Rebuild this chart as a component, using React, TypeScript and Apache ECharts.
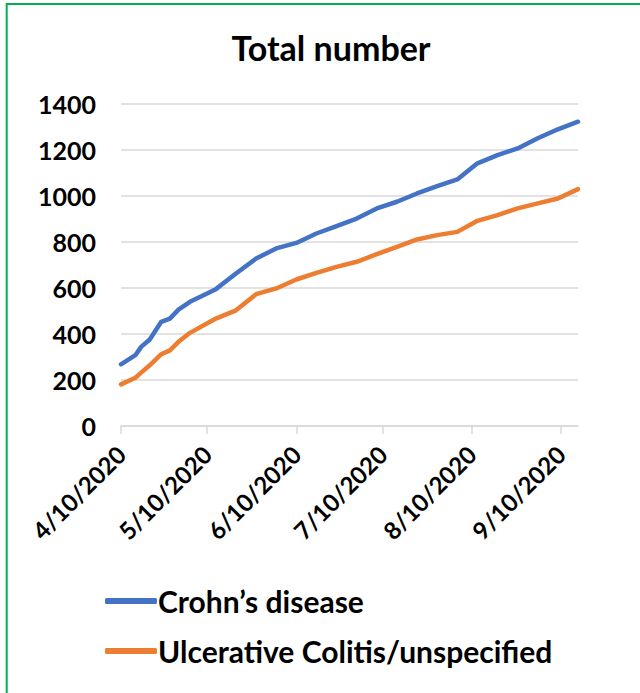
import React, { useEffect, useRef } from "react";
import * as echarts from "echarts";

const startDate = "2020-04-10";
const endDate = "2020-09-16";
const sampleDates = [
  "2020-04-10", "2020-04-15", "2020-04-17", "2020-04-20", "2020-04-24", "2020-04-27", "2020-04-30",
  "2020-05-04", "2020-05-13", "2020-05-20", "2020-05-27", "2020-06-03", "2020-06-10", "2020-06-17",
  "2020-06-24", "2020-07-01", "2020-07-08", "2020-07-15", "2020-07-22", "2020-07-29", "2020-08-05",
  "2020-08-12", "2020-08-19", "2020-08-26", "2020-09-02", "2020-09-09", "2020-09-16",
];
const crohnValues = [
  268, 308, 344, 376, 453, 467, 506, 540, 595, 663, 728, 772, 796, 837,
  869, 902, 946, 975, 1011, 1043, 1072, 1142, 1178, 1207, 1251, 1290, 1323,
];
const ucValues = [
  181, 210, 232, 264, 312, 329, 366, 405, 467, 503, 573, 598, 637, 666,
  692, 714, 747, 779, 811, 830, 844, 892, 917, 946, 968, 989, 1030,
];
const yTicks = [0, 200, 400, 600, 800, 1000, 1200, 1400];
const seriesNames = ["Crohn\u2019s disease", "Ulcerative Colitis/unspecified"];
const title = "Total number";

function buildDays(): string[] {
  const out: string[] = [];
  const d = new Date(startDate + "T00:00:00Z");
  const end = new Date(endDate + "T00:00:00Z");
  while (d <= end) {
    out.push(d.toISOString().slice(0, 10));
    d.setUTCDate(d.getUTCDate() + 1);
  }
  return out;
}

function fmt(s: string): string {
  const [y, m, d] = s.split("-");
  return `${parseInt(m, 10)}/${parseInt(d, 10)}/${y}`;
}

export default function App() {
  const ref = useRef<HTMLDivElement>(null);
  useEffect(() => {
    if (!ref.current) return;
    const chart = echarts.init(ref.current, null, { renderer: "svg" });
    const days = buildDays();
    const mapSeries = (vals: number[]) =>
      days.map((d) => {
        const i = sampleDates.indexOf(d);
        return i >= 0 ? vals[i] : null;
      });
    const isTick = (_i: number, v: string) => parseInt(v.slice(8, 10), 10) === 10;
    const font = "Lato, 'Open Sans', sans-serif";
    chart.setOption({
      animation: false,
      backgroundColor: "#ffffff",
      textStyle: { fontFamily: font },
      title: {
        text: title,
        left: 326,
        textAlign: "center",
        top: 25,
        textStyle: { fontSize: 34, fontWeight: "bold", color: "#000", fontFamily: font },
      },
      graphic: [
        {
          type: "rect",
          shape: { x: 6.7, y: 4, width: 720, height: 720 },
          style: { fill: "none", stroke: "#00B050", lineWidth: 2 },
          silent: true,
        },
      ],
      grid: { left: 121, right: 62, top: 104, bottom: 267, containLabel: false },
      xAxis: {
        type: "category",
        data: days,
        boundaryGap: false,
        axisLine: { lineStyle: { color: "#D9D9D9", width: 1.5 } },
        axisTick: { show: true, interval: isTick, length: 8, lineStyle: { color: "#D9D9D9", width: 1.5 } },
        axisLabel: {
          interval: isTick,
          rotate: 45,
          formatter: (v: string) => fmt(v),
          fontSize: 24,
          fontWeight: "bold",
          color: "#000",
          margin: 24,
          fontFamily: font,
        },
        splitLine: { show: false },
      },
      yAxis: {
        type: "value",
        min: yTicks[0],
        max: yTicks[yTicks.length - 1],
        interval: 200,
        axisLine: { show: false },
        axisTick: { show: false },
        axisLabel: {
          fontSize: 25,
          fontWeight: "bold",
          color: "#000",
          margin: 25,
          fontFamily: font,
          formatter: (v: number) => String(v),
        },
        splitLine: { lineStyle: { color: "#D9D9D9", width: 1.5 } },
      },
      legend: {
        orient: "vertical",
        left: 100,
        top: 581,
        itemGap: 20,
        itemWidth: 52,
        itemHeight: 6,
        icon: "roundRect",
        textStyle: { fontSize: 30, fontWeight: "bold", color: "#000", fontFamily: font, padding: [0, 0, 0, -4] },
        data: seriesNames,
      },
      series: [
        {
          name: seriesNames[0],
          type: "line",
          data: mapSeries(crohnValues),
          connectNulls: true,
          showSymbol: false,
          symbol: "none",
          lineStyle: { color: "#4472C4", width: 4.5, cap: "round", join: "round" },
          itemStyle: { color: "#4472C4" },
        },
        {
          name: seriesNames[1],
          type: "line",
          data: mapSeries(ucValues),
          connectNulls: true,
          showSymbol: false,
          symbol: "none",
          lineStyle: { color: "#ED7D31", width: 4.5, cap: "round", join: "round" },
          itemStyle: { color: "#ED7D31" },
        },
      ],
    });
    return () => chart.dispose();
  }, []);
  return (
    <div
      ref={ref}
      style={{ position: "fixed", left: 0, top: 0, width: 640, height: 693, background: "#fff" }}
    />
  );
}
